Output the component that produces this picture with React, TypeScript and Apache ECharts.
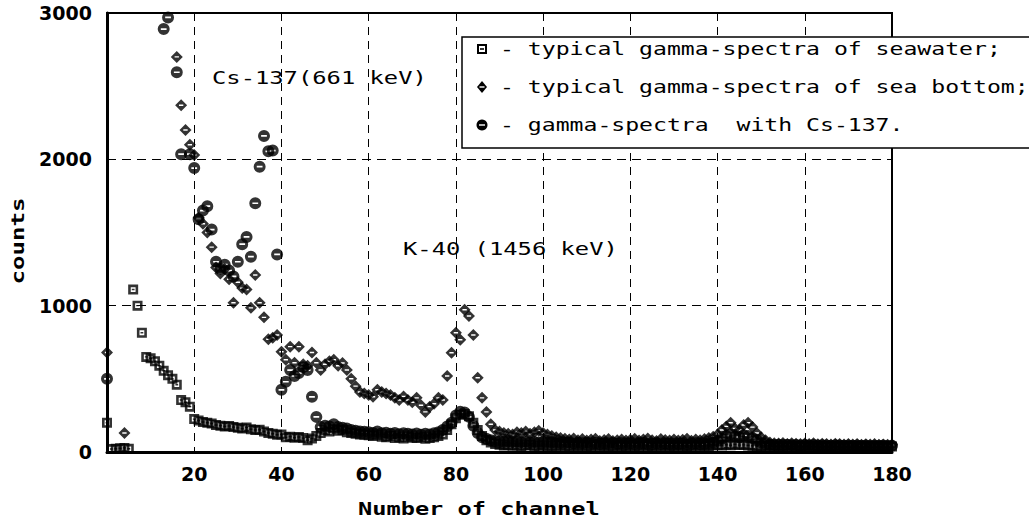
import React, { useEffect, useRef } from "react";
import * as echarts from "echarts";

// ---- data ----
const xTicks = [0, 20, 40, 60, 80, 100, 120, 140, 160, 180];
const yTicks = [0, 1000, 2000, 3000];

const legendNames = [
  "typical gamma-spectra of seawater;",
  "typical gamma-spectra of sea bottom;",
  "gamma-spectra  with Cs-137.",
];

// seawater: channels 0..180
const seawaterStart = 0;
const seawater = [
  200, 20, 22, 25, 28, 22, 1110, 1000, 815, 650,
  640, 620, 590, 555, 525, 500, 460, 355, 340, 310,
  225, 215, 205, 200, 195, 185, 180, 175, 178, 170,
  165, 160, 168, 155, 150, 152, 140, 130, 125, 118,
  120, 100, 105, 98, 102, 95, 80, 92, 110, 130,
  150, 140, 160, 145, 150, 135, 130, 125, 120, 118,
  115, 110, 118, 105, 100, 110, 95, 100, 92, 105,
  98, 95, 100, 90, 95, 100, 110, 120, 150, 190,
  230, 255, 260, 245, 200, 150, 110, 80, 65, 55,
  50, 45, 48, 42, 46, 40, 44, 47, 41, 43,
  45, 40, 42, 38, 44, 41, 39, 43, 40, 42,
  38, 41, 44, 39, 42, 40, 37, 43, 41, 39,
  42, 38, 40, 44, 41, 37, 42, 39, 43, 40,
  38, 42, 40, 37, 41, 44, 39, 42, 40, 45,
  48, 44, 50, 46, 52, 47, 49, 45, 43, 41,
  40, 38, 42, 39, 41, 37, 40, 43, 38, 41,
  39, 42, 37, 40, 38, 41, 36, 39, 42, 38,
  40, 37, 39, 41, 36, 38, 40, 37, 39, 36,
  38,
];

// sea bottom: a few early points, then channels 16..180
const seaBottomEarly: [number, number][] = [
  [0, 680],
  [4, 130],
];
const seaBottomStart = 16;
const seaBottom = [
  2700, 2370, 2200, 2100,
  2030, 1600, 1560, 1500, 1400, 1260, 1220, 1250, 1180, 1020,
  1160, 1120, 1110, 985, 1210, 1020, 920, 770, 780, 800,
  685, 630, 720, 610, 720, 600, 590, 680, 610, 560,
  600, 620, 630, 590, 608, 560, 500, 450, 410, 400,
  390, 377, 425, 410, 400, 390, 370, 356, 380, 356,
  340, 370, 320, 274, 310, 330, 370, 356, 520, 678,
  815, 767, 972, 930, 800, 507, 370, 274, 190, 150,
  140, 130, 125, 120, 135, 130, 140, 125, 135, 145,
  130, 120, 110, 100, 95, 90, 85, 92, 80, 88,
  78, 85, 90, 76, 82, 88, 75, 80, 86, 79,
  84, 90, 78, 85, 92, 80, 76, 88, 82, 79,
  86, 78, 83, 90, 77, 85, 80, 88, 95, 105,
  120, 150, 175, 200, 160, 150, 185, 200, 170, 130,
  100, 80, 65, 60, 58, 62, 55, 60, 57, 54,
  58, 55, 60, 53, 57, 55, 52, 56, 54, 51,
  55, 52, 54, 50, 53, 51, 55, 50, 52, 49,
  51,
];

// Cs-137: early points, then channels 49..180
const csEarly: [number, number][] = [
  [0, 500], [13, 2890], [14, 2970], [16, 2595], [17, 2035], [19, 2035],
  [20, 1940], [21, 1590], [22, 1650], [23, 1680], [24, 1520], [25, 1300],
  [26, 1250], [27, 1280], [28, 1240], [29, 1200], [30, 1300], [31, 1420],
  [32, 1470], [33, 1335], [34, 1700], [35, 1950], [36, 2160], [37, 2055],
  [38, 2060], [39, 1350], [40, 425], [41, 480], [42, 560], [43, 520],
  [44, 540], [45, 580], [46, 560], [47, 377], [48, 240],
];
const csStart = 49;
const csTail = [
  170, 180, 175, 190, 170, 165, 160, 150, 145, 140, 138,
  135, 130, 140, 128, 132, 125, 130, 122, 128, 125,
  120, 126, 118, 124, 120, 128, 135, 150, 175, 200,
  250, 275, 270, 240, 180, 130, 100, 90, 80, 75,
  72, 70, 74, 68, 71, 66, 70, 67, 69, 65,
  68, 64, 66, 62, 65, 61, 63, 60, 62, 59,
  61, 58, 62, 57, 60, 58, 61, 56, 59, 57,
  60, 56, 58, 61, 57, 55, 59, 56, 58, 54,
  57, 55, 58, 54, 56, 59, 55, 57, 60, 65,
  75, 90, 110, 120, 105, 100, 115, 110, 95, 80,
  65, 55, 50, 48, 50, 47, 49, 46, 48, 45,
  47, 45, 48, 44, 46, 45, 43, 46, 44, 42,
  45, 43, 44, 42, 45, 41, 43, 42, 44, 41,
  43,
];

const annotations = ["Cs-137(661 keV)", "K-40 (1456 keV)"];

// ---- symbols ----
const SQUARE = "path://M0 0H10V10H0Z M2.6 2.6V7.4H7.4V2.6Z M3.6 4.3H6.4V5.7H3.6Z";
const DIAMOND = "path://M5 0L10 5L5 10L0 5Z M3.2 4.4V5.6H6.8V4.4Z";
const CIRCLE = "path://M5 0A5 5 0 1 1 5 10A5 5 0 1 1 5 0Z M2.6 4.3V5.7H7.4V4.3Z";

const MONO = "DejaVu Sans Mono";

function txt(text: string, x: number, y: number, opts: any = {}) {
  return {
    type: "text",
    x,
    y,
    scaleX: opts.scaleX ?? 1.4,
    rotation: opts.rotation ?? 0,
    z: 100,
    style: {
      text,
      fontFamily: MONO,
      fontSize: opts.fontSize ?? 17,
      fontWeight: opts.fontWeight ?? "normal",
      fill: "#000",
      align: opts.align ?? "left",
      verticalAlign: "middle",
    },
  };
}

export default function App() {
  const ref = useRef<HTMLDivElement>(null);

  useEffect(() => {
    if (!ref.current) return;
    const chart = echarts.init(ref.current, undefined, { renderer: "svg" });

    const swData = seawater.map((v, i) => [seawaterStart + i, v]);
    const sbData = [
      ...seaBottomEarly,
      ...seaBottom.map((v, i) => [seaBottomStart + i, v]),
    ];
    const csData = [...csEarly, ...csTail.map((v, i) => [csStart + i, v])];

    const labelStyle = {
      color: "#000",
      fontFamily: "DejaVu Sans",
      fontWeight: "bold",
      fontSize: 19,
    };

    const legendX = 482;
    const rowsY = [49, 87, 125];

    const option: any = {
      animation: false,
      backgroundColor: "#fff",
      grid: {
        left: 107,
        right: 137,
        top: 13,
        bottom: 68,
        show: true,
        borderColor: "#000",
        borderWidth: 2,
      },
      xAxis: {
        type: "value",
        min: xTicks[0],
        max: xTicks[xTicks.length - 1],
        interval: 20,
        axisLine: { show: true, onZero: false, lineStyle: { color: "#000", width: 3 } },
        axisTick: { show: false },
        axisLabel: {
          ...labelStyle,
          margin: 12,
          formatter: (v: number) => (v === 0 ? "" : String(v)),
        },
        splitLine: {
          show: true,
          showMinLine: false,
          showMaxLine: false,
          lineStyle: { color: "#000", width: 1, type: [8, 6] },
        },
      },
      yAxis: {
        type: "value",
        min: yTicks[0],
        max: yTicks[yTicks.length - 1],
        interval: 1000,
        axisLine: { show: true, onZero: false, lineStyle: { color: "#000", width: 3 } },
        axisTick: { show: false },
        axisLabel: { ...labelStyle, margin: 15, formatter: (v: number) => String(v) },
        splitLine: {
          show: true,
          showMinLine: false,
          showMaxLine: false,
          lineStyle: { color: "#000", width: 1, type: [9, 6] },
        },
      },
      series: [
        {
          name: legendNames[0],
          type: "scatter",
          data: swData,
          symbol: SQUARE,
          symbolSize: 10,
          itemStyle: { color: "#000" },
          z: 2,
        },
        {
          name: legendNames[1],
          type: "scatter",
          data: sbData,
          symbol: DIAMOND,
          symbolSize: 12,
          itemStyle: { color: "#000" },
          z: 3,
        },
        {
          name: legendNames[2],
          type: "scatter",
          data: csData,
          symbol: CIRCLE,
          symbolSize: 12,
          itemStyle: { color: "#000" },
          z: 4,
        },
      ],
      graphic: [
        // annotations
        txt(annotations[0], 212, 78),
        txt(annotations[1], 403, 249),
        // axis titles
        txt("Number of channel", 358, 509, { fontWeight: "bold", scaleX: 1.39 }),
        txt("counts", 18, 241, {
          fontWeight: "bold",
          rotation: Math.PI / 2,
          align: "center",
          scaleX: 1.42,
        }),
        // legend box
        {
          type: "rect",
          z: 90,
          shape: { x: 462, y: 37, width: 620, height: 111 },
          style: { fill: "#fff", stroke: "#000", lineWidth: 1.5 },
        },
        // square marker
        { type: "rect", z: 100, shape: { x: legendX - 5, y: rowsY[0] - 5, width: 10, height: 10 }, style: { fill: "#000" } },
        { type: "rect", z: 101, shape: { x: legendX - 3, y: rowsY[0] - 3, width: 6, height: 6 }, style: { fill: "#fff" } },
        { type: "rect", z: 102, shape: { x: legendX - 2, y: rowsY[0] - 0.8, width: 4, height: 1.6 }, style: { fill: "#000" } },
        // diamond marker
        {
          type: "polygon",
          z: 100,
          shape: {
            points: [
              [legendX, rowsY[1] - 6],
              [legendX + 5, rowsY[1]],
              [legendX, rowsY[1] + 6],
              [legendX - 5, rowsY[1]],
            ],
          },
          style: { fill: "#000" },
        },
        { type: "rect", z: 101, shape: { x: legendX - 2.5, y: rowsY[1] - 0.7, width: 5, height: 1.4 }, style: { fill: "#fff" } },
        // circle marker
        { type: "circle", z: 100, shape: { cx: legendX, cy: rowsY[2], r: 5.5 }, style: { fill: "#000" } },
        { type: "rect", z: 101, shape: { x: legendX - 3, y: rowsY[2] - 0.7, width: 6, height: 1.4 }, style: { fill: "#fff" } },
        // legend texts
        txt("- " + legendNames[0], 500, rowsY[0], { scaleX: 1.36 }),
        txt("- " + legendNames[1], 500, rowsY[1], { scaleX: 1.36 }),
        txt("- " + legendNames[2], 500, rowsY[2], { scaleX: 1.36 }),
      ],
    };

    chart.setOption(option);
    return () => chart.dispose();
  }, []);

  return (
    <div
      ref={ref}
      style={{ position: "fixed", left: 0, top: 0, width: 1029, height: 520, background: "#fff" }}
    />
  );
}
